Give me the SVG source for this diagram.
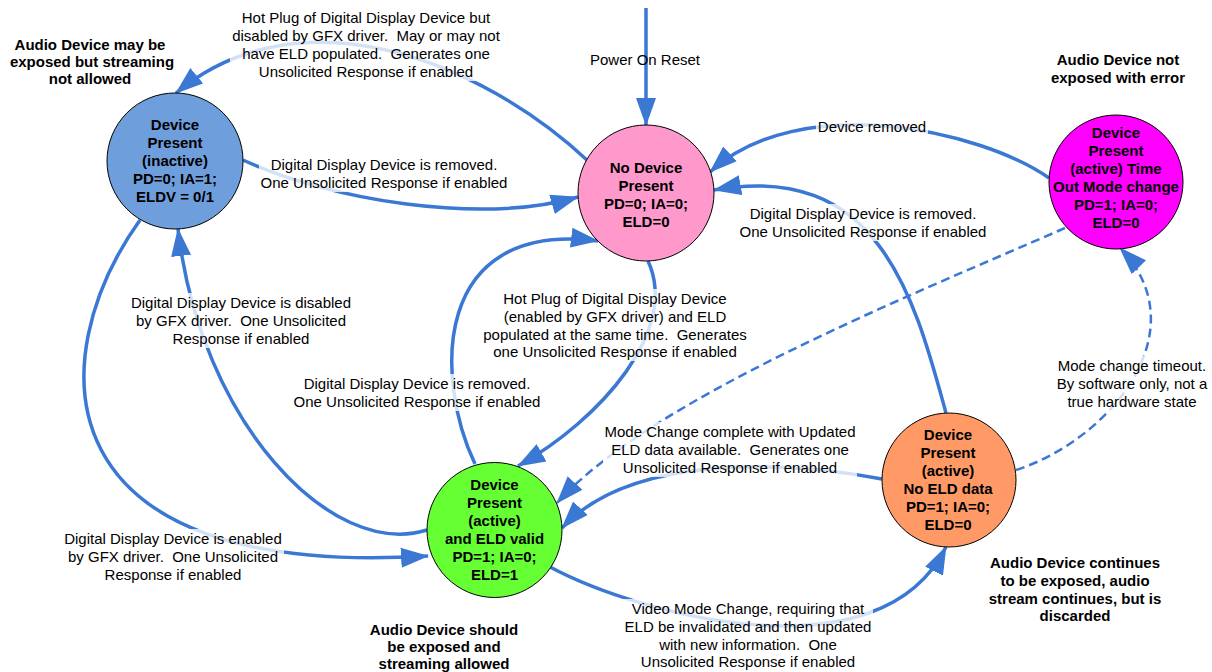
<svg xmlns="http://www.w3.org/2000/svg" width="1212" height="672" viewBox="0 0 1212 672">
<style>
.c{fill:none;stroke:#3a78d4;stroke-width:3.5;marker-end:url(#ah)}
.d{fill:none;stroke:#3a78d4;stroke-width:2.5;stroke-dasharray:9,5;marker-end:url(#ah)}
.n{stroke:#000;stroke-width:1}
.nt{font-family:"Liberation Sans",Arial,sans-serif;font-size:15px;font-weight:bold;text-anchor:middle;fill:#000}
.lt{font-family:"Liberation Sans",Arial,sans-serif;font-size:15px;text-anchor:middle;fill:#000;white-space:pre}
.bt{font-family:"Liberation Sans",Arial,sans-serif;font-size:15px;font-weight:bold;text-anchor:middle;fill:#000}
.bg{fill:#fff;fill-opacity:0.78}
</style>
<defs>
<marker id="ah" markerUnits="userSpaceOnUse" markerWidth="30" markerHeight="22" viewBox="0 0 30 22" refX="27" refY="11" orient="auto">
<path d="M0,1 L28,11 L0,21 z" fill="#3a78d4"/>
</marker>
</defs>
<g id="connectors">
<path id="e-power" class="c" d="M646 8 L646 125"/>
<path id="e-hotplug-disabled" class="c" d="M588 161 C480 60, 300 -10, 176 93"/>
<path id="e-removed-1" class="c" d="M243 160 C330 200, 480 225, 578 197"/>
<path id="e-removed-3" class="c" d="M475 464 C435 380, 430 220, 598 241"/>
<path id="e-hotplug-enabled" class="c" d="M648 261 C680 330, 600 420, 518 466"/>
<path id="e-disabled" class="c" d="M427 530 C330 560, 200 420, 178 229"/>
<path id="e-enabled" class="c" d="M140 220 C40 360, 40 580, 428 556"/>
<path id="e-removed-2" class="c" d="M946 413 C915 300, 880 160, 714 190"/>
<path id="e-device-removed" class="c" d="M1049 178 C980 130, 800 90, 710 172"/>
<path id="e-mode-complete-dashed" class="d" d="M1065 228 C900 300, 650 400, 557 503"/>
<path id="e-mode-complete" class="c" d="M882 479 C780 460, 630 455, 562 528"/>
<path id="e-timeout" class="d" d="M1016 470 C1110 440, 1200 330, 1120 248"/>
<path id="e-video" class="c" d="M550 567 C640 615, 880 680, 946 547"/>
</g>
<g id="node-inactive">
<circle class="n" cx="175" cy="161" r="68" fill="#6f9edc"/>
<text class="nt"><tspan x="175" y="130">Device</tspan><tspan x="175" y="148">Present</tspan><tspan x="175" y="166">(inactive)</tspan><tspan x="175" y="184">PD=0; IA=1;</tspan><tspan x="175" y="202">ELDV = 0/1</tspan></text>
</g>
<g id="node-nodevice">
<circle class="n" cx="646" cy="193" r="68" fill="#ff99cc"/>
<text class="nt"><tspan x="646" y="173">No Device</tspan><tspan x="646" y="191">Present</tspan><tspan x="646" y="209">PD=0; IA=0;</tspan><tspan x="646" y="227">ELD=0</tspan></text>
</g>
<g id="node-timeout">
<circle class="n" cx="1116" cy="182" r="67" fill="#ff00ff"/>
<text class="nt"><tspan x="1116" y="138">Device</tspan><tspan x="1116" y="156">Present</tspan><tspan x="1116" y="174">(active) Time</tspan><tspan x="1116" y="192">Out Mode change</tspan><tspan x="1116" y="210">PD=1; IA=0;</tspan><tspan x="1116" y="228">ELD=0</tspan></text>
</g>
<g id="node-eldvalid">
<circle class="n" cx="494.5" cy="530" r="67.5" fill="#66ff33"/>
<text class="nt"><tspan x="494.5" y="490">Device</tspan><tspan x="494.5" y="508">Present</tspan><tspan x="494.5" y="526">(active)</tspan><tspan x="494.5" y="544">and ELD valid</tspan><tspan x="494.5" y="562">PD=1; IA=0;</tspan><tspan x="494.5" y="580">ELD=1</tspan></text>
</g>
<g id="node-noeld">
<circle class="n" cx="949" cy="480" r="67" fill="#ff9966"/>
<text class="nt"><tspan x="948" y="440">Device</tspan><tspan x="948" y="458">Present</tspan><tspan x="948" y="476">(active)</tspan><tspan x="948" y="494">No ELD data</tspan><tspan x="948" y="512">PD=1; IA=0;</tspan><tspan x="948" y="530">ELD=0</tspan></text>
</g>
<g id="labels">
<rect class="bg" x="230" y="8" width="272" height="73"/>
<text class="lt" xml:space="preserve"><tspan x="366" y="23">Hot Plug of Digital Display Device but</tspan><tspan x="366" y="41">disabled by GFX driver.  May or may not</tspan><tspan x="366" y="59">have ELD populated.  Generates one</tspan><tspan x="366" y="77">Unsolicited Response if enabled</tspan></text>
<text class="lt"><tspan x="645" y="65">Power On Reset</tspan></text>
<rect class="bg" x="816" y="118" width="112" height="19"/>
<text class="lt"><tspan x="872" y="132">Device removed</tspan></text>
<rect class="bg" x="259" y="155" width="250" height="37"/>
<text class="lt"><tspan x="384" y="170">Digital Display Device is removed.</tspan><tspan x="384" y="188">One Unsolicited Response if enabled</tspan></text>
<rect class="bg" x="738" y="204" width="250" height="37"/>
<text class="lt"><tspan x="863" y="219">Digital Display Device is removed.</tspan><tspan x="863" y="237">One Unsolicited Response if enabled</tspan></text>
<rect class="bg" x="128" y="293" width="226" height="55"/>
<text class="lt" xml:space="preserve"><tspan x="241" y="308">Digital Display Device is disabled</tspan><tspan x="241" y="326">by GFX driver.  One Unsolicited</tspan><tspan x="241" y="344">Response if enabled</tspan></text>
<rect class="bg" x="482" y="289" width="266" height="72"/>
<text class="lt" xml:space="preserve"><tspan x="615" y="304">Hot Plug of Digital Display Device</tspan><tspan x="615" y="322">(enabled by GFX driver) and ELD</tspan><tspan x="615" y="340">populated at the same time.  Generates</tspan><tspan x="615" y="357">one Unsolicited Response if enabled</tspan></text>
<rect class="bg" x="292" y="374" width="250" height="37"/>
<text class="lt"><tspan x="417" y="389">Digital Display Device is removed.</tspan><tspan x="417" y="407">One Unsolicited Response if enabled</tspan></text>
<rect class="bg" x="1054" y="356" width="156" height="55"/>
<text class="lt"><tspan x="1132" y="371">Mode change timeout.</tspan><tspan x="1132" y="389">By software only, not a</tspan><tspan x="1132" y="407">true hardware state</tspan></text>
<rect class="bg" x="603" y="422" width="254" height="55"/>
<text class="lt" xml:space="preserve"><tspan x="730" y="437">Mode Change complete with Updated</tspan><tspan x="730" y="455">ELD data available.  Generates one</tspan><tspan x="730" y="473">Unsolicited Response if enabled</tspan></text>
<rect class="bg" x="62" y="529" width="222" height="55"/>
<text class="lt" xml:space="preserve"><tspan x="173" y="544">Digital Display Device is enabled</tspan><tspan x="173" y="562">by GFX driver.  One Unsolicited</tspan><tspan x="173" y="580">Response if enabled</tspan></text>
<rect class="bg" x="623" y="599" width="250" height="72"/>
<text class="lt" xml:space="preserve"><tspan x="748" y="614">Video Mode Change, requiring that</tspan><tspan x="748" y="632">ELD be invalidated and then updated</tspan><tspan x="748" y="650">with new information.  One</tspan><tspan x="748" y="667">Unsolicited Response if enabled</tspan></text>
<text class="bt"><tspan x="90" y="50">Audio Device may be</tspan><tspan x="92" y="67">exposed but streaming</tspan><tspan x="90" y="84">not allowed</tspan></text>
<text class="bt"><tspan x="1118" y="65">Audio Device not</tspan><tspan x="1118" y="83">exposed with error</tspan></text>
<text class="bt"><tspan x="1075" y="568">Audio Device continues</tspan><tspan x="1075" y="586">to be exposed, audio</tspan><tspan x="1075" y="604">stream continues, but is</tspan><tspan x="1075" y="621">discarded</tspan></text>
<text class="bt"><tspan x="444" y="635">Audio Device should</tspan><tspan x="444" y="652">be exposed and</tspan><tspan x="444" y="669">streaming allowed</tspan></text>
</g>
</svg>
